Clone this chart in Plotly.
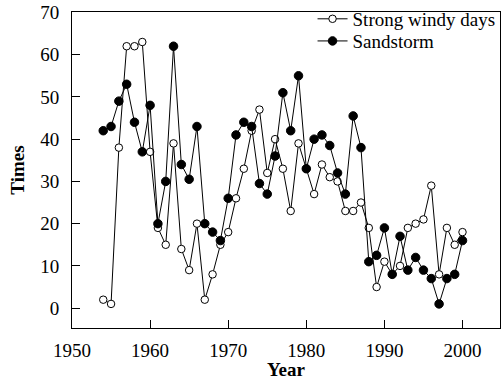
import plotly.graph_objects as go

years_windy = list(range(1954, 2001))
windy = [2, 1, 38, 62, 62, 63, 37, 19, 15, 39, 14, 9, 20, 2, 8, 15, 18, 26, 33, 42, 47,
         32, 40, 33, 23, 39, 33, 27, 34, 31, 30, 23, 23, 25, 19, 5, 11, 8, 10, 19, 20,
         21, 29, 8, 19, 15, 18]
years_sand = list(range(1954, 2001))
sand = [42, 43, 49, 53, 44, 37, 48, 20, 30, 62, 34, 30.5, 43, 20, 18, 16, 26, 41, 44, 43,
        29.5, 27, 36, 51, 42, 55, 33, 40, 41, 38.5, 32, 27, 45.5, 38, 11, 12.5, 19, 8, 17,
        9, 12, 9, 7, 1, 7, 8, 16]

x_ticks = [1950, 1960, 1970, 1980, 1990, 2000]
y_ticks = [0, 10, 20, 30, 40, 50, 60, 70]

font_family = "Liberation Serif"
fs = 19

fig = go.Figure()
fig.add_trace(go.Scatter(
    x=years_windy, y=windy, mode="lines+markers", name="Strong windy days",
    line=dict(color="black", width=1), legend="legend",
    marker=dict(symbol="circle", size=7.5, color="white", line=dict(color="black", width=1)),
))
fig.add_trace(go.Scatter(
    x=years_sand, y=sand, mode="lines+markers", name="Sandstorm",
    line=dict(color="black", width=1), legend="legend2",
    marker=dict(symbol="circle", size=8.5, color="black", line=dict(color="black", width=1)),
))

leg_common = dict(x=0.562, xanchor="left", yanchor="middle",
                  bgcolor="rgba(0,0,0,0)", font=dict(size=fs, family=font_family),
                  itemwidth=30)

fig.update_layout(
    width=501, height=380,
    margin=dict(l=72, r=1, t=12, b=52, autoexpand=False),
    paper_bgcolor="white", plot_bgcolor="white",
    font=dict(family=font_family, size=fs, color="black"),
    showlegend=True,
    legend=dict(y=0.978, **leg_common),
    legend2=dict(y=0.908, **leg_common),
)
fig.update_xaxes(
    range=[1950, 2004.8], tickvals=x_ticks, ticktext=[str(v) for v in x_ticks],
    ticks="inside", ticklen=8, tickcolor="black", tickwidth=1,
    showline=True, linecolor="black", linewidth=1, mirror=True,
    showgrid=False, zeroline=False, automargin=False, ticklabelstandoff=5,
    title=dict(text="<b>Year</b>", font=dict(size=fs, family=font_family), standoff=0),
)
fig.update_yaxes(
    range=[-4.7, 70.1], tickvals=y_ticks, ticktext=[str(v) for v in y_ticks],
    ticks="inside", ticklen=8, tickcolor="black", tickwidth=1,
    showline=True, linecolor="black", linewidth=1, mirror=True,
    showgrid=False, zeroline=False, automargin=False, ticklabelstandoff=8,
    title=dict(text="<b>Times</b>", font=dict(size=fs, family=font_family), standoff=10),
)

fig.write_html("out.html", config={"displayModeBar": False},
               post_script="document.body.style.margin='0';")
